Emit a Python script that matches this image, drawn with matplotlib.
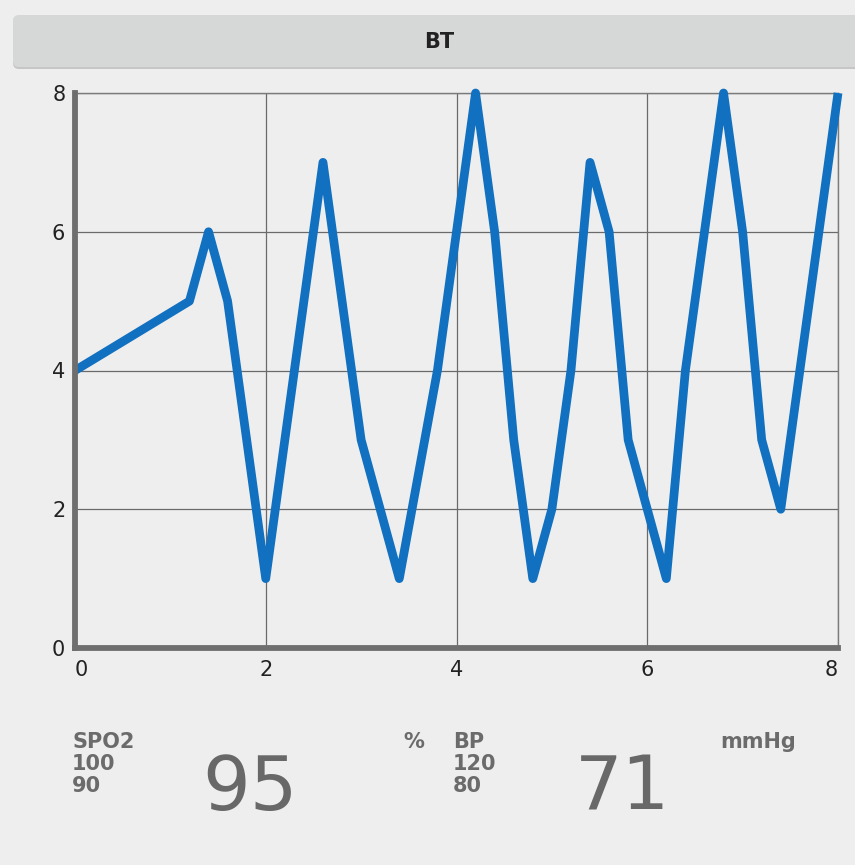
import matplotlib
matplotlib.use("Agg")
import matplotlib.pyplot as plt
from matplotlib.patches import FancyBboxPatch

# ---- data ----
x_values = [0, 1.2, 1.4, 1.6, 2.0, 2.6, 3.0, 3.4, 3.8, 4.2, 4.4, 4.6, 4.8,
            5.0, 5.2, 5.4, 5.6, 5.8, 6.2, 6.4, 6.8, 7.0, 7.2, 7.4, 8.0]
y_values = [4, 5, 6, 5, 1, 7, 3, 1, 4, 8, 6, 3, 1,
            2, 4, 7, 6, 3, 1, 4, 8, 6, 3, 2, 8]
x_ticks = [0, 2, 4, 6, 8]
y_ticks = [0, 2, 4, 6, 8]
button_label = "BT"
spo2_label, spo2_high, spo2_low, spo2_value, spo2_unit = "SPO2", "100", "90", "95", "%"
bp_label, bp_high, bp_low, bp_value, bp_unit = "BP", "120", "80", "71", "mmHg"

W, H = 855, 865
BG = "#eeeeee"
fig = plt.figure(figsize=(W / 100, H / 100), dpi=100, facecolor=BG)


def fx(x):
    return x / W


def fy(y):
    return 1 - y / H


# ---- top button ----
shadow = FancyBboxPatch((fx(13), fy(69)), fx(900) - fx(13), fy(16) - fy(69),
                        boxstyle="round,pad=0,rounding_size=0.007",
                        transform=fig.transFigure, fc="#c6c6c6", ec="none")
button = FancyBboxPatch((fx(13), fy(67)), fx(900) - fx(13), fy(15) - fy(67),
                        boxstyle="round,pad=0,rounding_size=0.007",
                        transform=fig.transFigure, fc="#d6d7d7", ec="none")
fig.patches.extend([shadow, button])
fig.text(fx(439), fy(42), button_label, ha="center", va="center",
         fontsize=15, fontweight="bold", color="#222222")

# ---- chart ----
ax = fig.add_axes([fx(75), fy(648), fx(838) - fx(75), fy(93) - fy(648)])
ax.set_facecolor(BG)
ax.set_xlim(0, 8)
ax.set_ylim(0, 8)
ax.grid(True, color="#6a6a6a", lw=0.9)
ax.set_axisbelow(True)
ax.plot(x_values, y_values, color="#1170c0", lw=6.3, clip_on=False,
        solid_joinstyle="round", solid_capstyle="butt", zorder=3)

for side in ("top", "right"):
    ax.spines[side].set_color("#7a7a7a")
    ax.spines[side].set_linewidth(1.0)
for side in ("left", "bottom"):
    ax.spines[side].set_color("#6e6e6e")
    ax.spines[side].set_linewidth(4.2)
    ax.spines[side].set_zorder(4)

ax.set_xticks(x_ticks)
ax.set_yticks(y_ticks)
ax.set_xticklabels([str(t) for t in x_ticks])
ax.set_yticklabels([str(t) for t in y_ticks])
ax.tick_params(length=0, labelsize=15, colors="#222222")
ax.tick_params(axis="x", pad=9)
ax.tick_params(axis="y", pad=7)
xl = ax.get_xticklabels()
xl[0].set_ha("left")
xl[-1].set_ha("right")

# ---- bottom readouts ----
label_color = "#6b6b6b"
value_color = "#686868"
small = dict(fontsize=15, fontweight="bold", color=label_color, va="baseline")

fig.text(fx(72), fy(748), spo2_label, ha="left", **small)
fig.text(fx(72), fy(770), spo2_high, ha="left", **small)
fig.text(fx(72), fy(792), spo2_low, ha="left", **small)
fig.text(fx(250), fy(810), spo2_value, ha="center", va="baseline",
         fontsize=54, color=value_color)
fig.text(fx(414), fy(748), spo2_unit, ha="center", **small)

fig.text(fx(453), fy(748), bp_label, ha="left", **small)
fig.text(fx(453), fy(770), bp_high, ha="left", **small)
fig.text(fx(453), fy(792), bp_low, ha="left", **small)
fig.text(fx(622), fy(810), bp_value, ha="center", va="baseline",
         fontsize=54, color=value_color)
fig.text(fx(758), fy(748), bp_unit, ha="center", **small)

fig.savefig("out.png", dpi=100, facecolor=BG)
